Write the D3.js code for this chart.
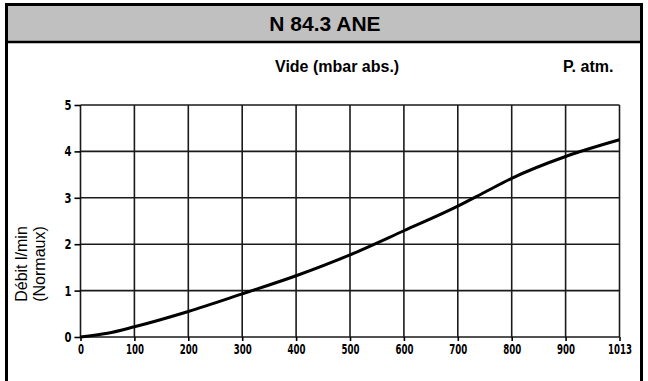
<!DOCTYPE html>
<html>
<head>
<meta charset="utf-8">
<script src="https://cdn.jsdelivr.net/npm/d3@7"></script>
<style>
  body { margin: 0; background: #fff; }
  svg text { font-family: "Liberation Sans", Arial, sans-serif; }
</style>
</head>
<body>
<div id="chart"></div>
<script>
// vide (mbar abs.) -- 1000 is the "1013" P. atm. gridline
const vide = [0, 50, 100, 200, 300, 400, 500, 600, 700, 750, 800, 900, 1000]
const debit = [0, 0.08, 0.22, 0.55, 0.93, 1.32, 1.77, 2.29, 2.82, 3.12, 3.42, 3.89, 4.25]
const xTicks = [0, 100, 200, 300, 400, 500, 600, 700, 800, 900, 1000]
const xTickLabels = ["0", "100", "200", "300", "400", "500", "600", "700", "800", "900", "1013"]
const yTicks = [0, 1, 2, 3, 4, 5]

const W = 648, H = 381
const svg = d3.select("#chart")
    .append("svg")
    .attr("width", W)
    .attr("height", H)

// header band
svg.append("rect")
    .attr("x", 7).attr("y", 5)
    .attr("width", 635).attr("height", 36)
    .attr("fill", "#c0c0c0")
svg.append("line")
    .attr("x1", 6).attr("x2", 643)
    .attr("y1", 42).attr("y2", 42)
    .attr("stroke", "#000").attr("stroke-width", 2.5)
// frame (open at bottom)
svg.append("path")
    .attr("d", "M6.5," + H + "V4.5H641.5V" + H)
    .attr("fill", "none")
    .attr("stroke", "#000")
    .attr("stroke-width", 3)

svg.append("text")
    .attr("x", 325).attr("y", 31)
    .attr("text-anchor", "middle")
    .attr("font-size", 21)
    .attr("font-weight", "bold")
    .text("N 84.3 ANE")

const x = d3.scaleLinear().domain([0, 1000]).range([80.5, 619.5])
const y = d3.scaleLinear().domain([0, 5]).range([337, 105])

// grid
const grid = svg.append("g").attr("stroke", "#1a1a1a").attr("stroke-width", 1.6)
grid.selectAll(".v").data(xTicks).enter().append("line")
    .attr("x1", d => x(d)).attr("x2", d => x(d))
    .attr("y1", y(5)).attr("y2", y(0))
grid.selectAll(".h").data(yTicks).enter().append("line")
    .attr("x1", x(0)).attr("x2", x(1000))
    .attr("y1", d => y(d)).attr("y2", d => y(d))

const tickFont = "'DejaVu Sans Condensed', sans-serif"

// axes
const xAxis = d3.axisBottom(x).tickValues(xTicks)
    .tickFormat((d, i) => xTickLabels[i]).tickSize(4).tickPadding(3)
svg.append("g")
    .attr("transform", "translate(0," + y(0) + ")")
    .call(xAxis)
    .call(g => g.select(".domain").remove())
    .call(g => g.selectAll("line").attr("stroke-width", 1.6))
    .selectAll("text")
    .style("font-family", tickFont)
    .attr("font-size", 14).attr("font-weight", "bold").attr("fill", "#000")
    .attr("textLength", (d, i) => xTickLabels[i].length * 6)
    .attr("lengthAdjust", "spacingAndGlyphs")

const yAxis = d3.axisLeft(y).tickValues(yTicks).tickFormat(d3.format("d")).tickSize(6).tickPadding(3)
svg.append("g")
    .attr("transform", "translate(" + x(0) + ",0)")
    .call(yAxis)
    .call(g => g.select(".domain").remove())
    .call(g => g.selectAll("line").attr("stroke-width", 1.6))
    .selectAll("text")
    .style("font-family", tickFont)
    .attr("font-size", 14).attr("font-weight", "bold").attr("fill", "#000")
    .attr("textLength", 7).attr("lengthAdjust", "spacingAndGlyphs")

// curve
svg.append("path")
    .datum(vide.map((v, i) => [v, debit[i]]))
    .attr("fill", "none")
    .attr("stroke", "#000")
    .attr("stroke-width", 3)
    .attr("d", d3.line().x(d => x(d[0])).y(d => y(d[1])).curve(d3.curveMonotoneX))

// labels
svg.append("text")
    .attr("x", 275).attr("y", 72)
    .attr("font-size", 16).attr("font-weight", "bold")
    .text("Vide (mbar abs.)")
svg.append("text")
    .attr("x", 563).attr("y", 72)
    .attr("font-size", 16).attr("font-weight", "bold")
    .text("P. atm.")

const yl = svg.append("text")
    .attr("transform", "translate(0,264) rotate(-90)")
    .attr("text-anchor", "middle")
    .attr("font-size", 16)
yl.append("tspan").attr("x", 0).attr("y", 27).text("Débit l/min")
yl.append("tspan").attr("x", 0).attr("y", 45).text("(Normaux)")
</script>
</body>
</html>
